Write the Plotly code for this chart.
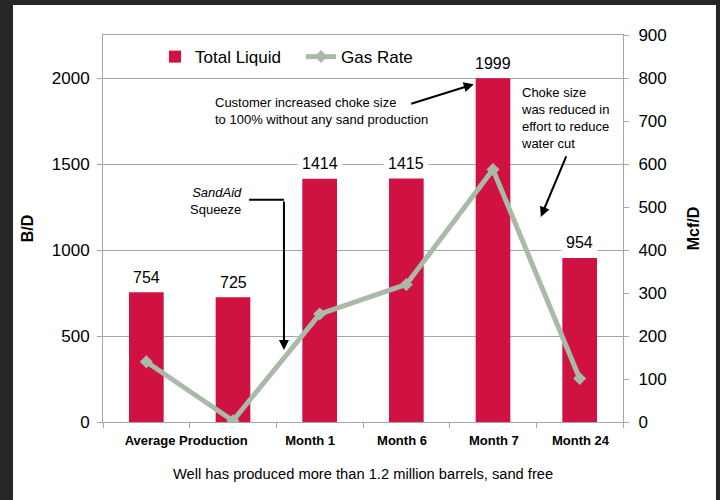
import plotly.graph_objects as go

# ---- data ----
categories = ["Average Production", "", "Month 1", "Month 6", "Month 7", "Month 24"]
total_liquid = [754, 725, 1414, 1415, 1999, 954]
gas_rate = [140, 3, 251, 320, 587, 101]
liquid_ticks = [0, 500, 1000, 1500, 2000]
gas_ticks = [0, 100, 200, 300, 400, 500, 600, 700, 800, 900]
x_tick_labels = ["Average Production", "Month 1", "Month 6", "Month 7", "Month 24"]

# ---- layout helpers ----
x_idx = list(range(len(categories)))
x_label_pos = [0.46, 1.89, 2.95, 4.01, 5.01]
boundaries = [i - 0.5 for i in range(len(categories) + 1)]

FONT = "Liberation Sans, Arial, sans-serif"
RED = "#D01242"
SAGE = "#A9BBA8"
GRID = "#A6A6A6"

fig = go.Figure()
fig.add_trace(go.Bar(
    x=x_idx, y=total_liquid, name="Total Liquid",
    marker=dict(color=RED, line=dict(width=0)), width=0.4, yaxis="y",
))
fig.add_trace(go.Scatter(
    x=x_idx, y=gas_rate, name="Gas Rate", mode="lines+markers",
    line=dict(color=SAGE, width=5),
    marker=dict(symbol="diamond", size=10, color=SAGE),
    yaxis="y2",
))

# value labels above bars
for xi, v in zip(x_idx, total_liquid):
    fig.add_annotation(
        x=xi, y=v, xref="x", yref="y", text=str(v), showarrow=False,
        yshift=15, yanchor="middle", bgcolor="white", borderpad=4,
        font=dict(family=FONT, size=16, color="black"),
    )

ann_font = dict(family=FONT, size=13, color="black")
fig.add_annotation(
    xref="paper", yref="paper", x=0.2115, y=0.804, xanchor="left", yanchor="middle",
    align="left", showarrow=False, font=ann_font,
    text="Customer increased choke size<br>to 100% without any sand production",
)
fig.add_annotation(
    xref="paper", yref="paper", x=0.713, y=0.873, text="", showarrow=True,
    ax=-64, ay=20, arrowhead=2, arrowsize=1, arrowwidth=2, arrowcolor="black",
)
fig.add_annotation(
    xref="paper", yref="paper", x=0.800, y=0.786, xanchor="left", yanchor="middle",
    align="left", showarrow=False, font=ann_font,
    text="Choke size<br>was reduced in<br>effort to reduce<br>water cut",
)
fig.add_annotation(
    xref="paper", yref="paper", x=0.842, y=0.530, text="", showarrow=True,
    ax=26, ay=-62, arrowhead=2, arrowsize=1, arrowwidth=2, arrowcolor="black",
)
fig.add_annotation(
    xref="paper", yref="paper", x=0.272, y=0.571, xanchor="right", yanchor="middle",
    align="right", showarrow=False, font=ann_font,
    text="<i>SandAid</i><br>Squeeze",
)
fig.add_shape(
    type="line", xref="paper", yref="paper", x0=0.281, x1=0.348, y0=0.574, y1=0.574,
    line=dict(color="black", width=2),
)
fig.add_annotation(
    xref="paper", yref="paper", x=0.348, y=0.186, text="", showarrow=True,
    ax=0, ay=-150, arrowhead=2, arrowsize=1, arrowwidth=2, arrowcolor="black",
)
fig.add_annotation(
    xref="paper", yref="paper", x=0.5, y=-0.135, xanchor="center", yanchor="middle",
    showarrow=False, text="Well has produced more than 1.2 million barrels, sand free",
    font=dict(family=FONT, size=14.7, color="black"),
)

# white panel over dark page background
fig.add_shape(
    type="rect", xref="paper", yref="paper", x0=-0.1731, x1=1.1788, y0=-0.3, y1=1.0775,
    fillcolor="white", line=dict(width=0), layer="below",
)

fig.update_layout(
    width=720, height=500,
    margin=dict(l=103, r=97, t=35, b=78),
    paper_bgcolor="#262626", plot_bgcolor="white",
    font=dict(family=FONT, color="black"),
    bargap=0.6,
    showlegend=True,
    legend=dict(
        orientation="h", x=0.1, y=0.943, xanchor="left", yanchor="middle",
        bgcolor="rgba(0,0,0,0)", font=dict(family=FONT, size=17, color="black"),
        entrywidth=101, entrywidthmode="pixels",
    ),
    xaxis=dict(
        range=[-0.5, len(categories) - 0.5], showgrid=False, zeroline=False,
        showline=True, linecolor=GRID, linewidth=1, mirror=True,
        tickvals=x_label_pos, ticktext=x_tick_labels, ticks="",
        tickfont=dict(family=FONT, size=13, color="black", weight="bold"),
        ticklabelstandoff=6,
        minor=dict(tickvals=boundaries, ticks="outside", ticklen=5, tickcolor=GRID, showgrid=False),
    ),
    yaxis=dict(
        range=[0, 2250], tickvals=liquid_ticks, showgrid=True, gridcolor=GRID, gridwidth=1,
        zeroline=False, showline=True, linecolor=GRID, linewidth=1,
        ticks="outside", ticklen=5, tickcolor=GRID, ticklabelstandoff=4,
        tickfont=dict(family=FONT, size=17, color="black"),
        title=dict(text="B/D", font=dict(family=FONT, size=16, color="black", weight="bold"), standoff=14),
    ),
    yaxis2=dict(
        range=[0, 900], tickvals=gas_ticks, overlaying="y", side="right",
        showgrid=False, zeroline=False, showline=True, linecolor=GRID, linewidth=1,
        ticks="outside", ticklen=5, tickcolor=GRID, ticklabelstandoff=6,
        tickfont=dict(family=FONT, size=17, color="black"),
        title=dict(text="Mcf/D", font=dict(family=FONT, size=16, color="black", weight="bold"), standoff=22),
    ),
)

fig.write_html(
    "out.html",
    config={"displayModeBar": False},
    post_script="document.body.style.margin='0';document.body.style.background='#262626';",
)
